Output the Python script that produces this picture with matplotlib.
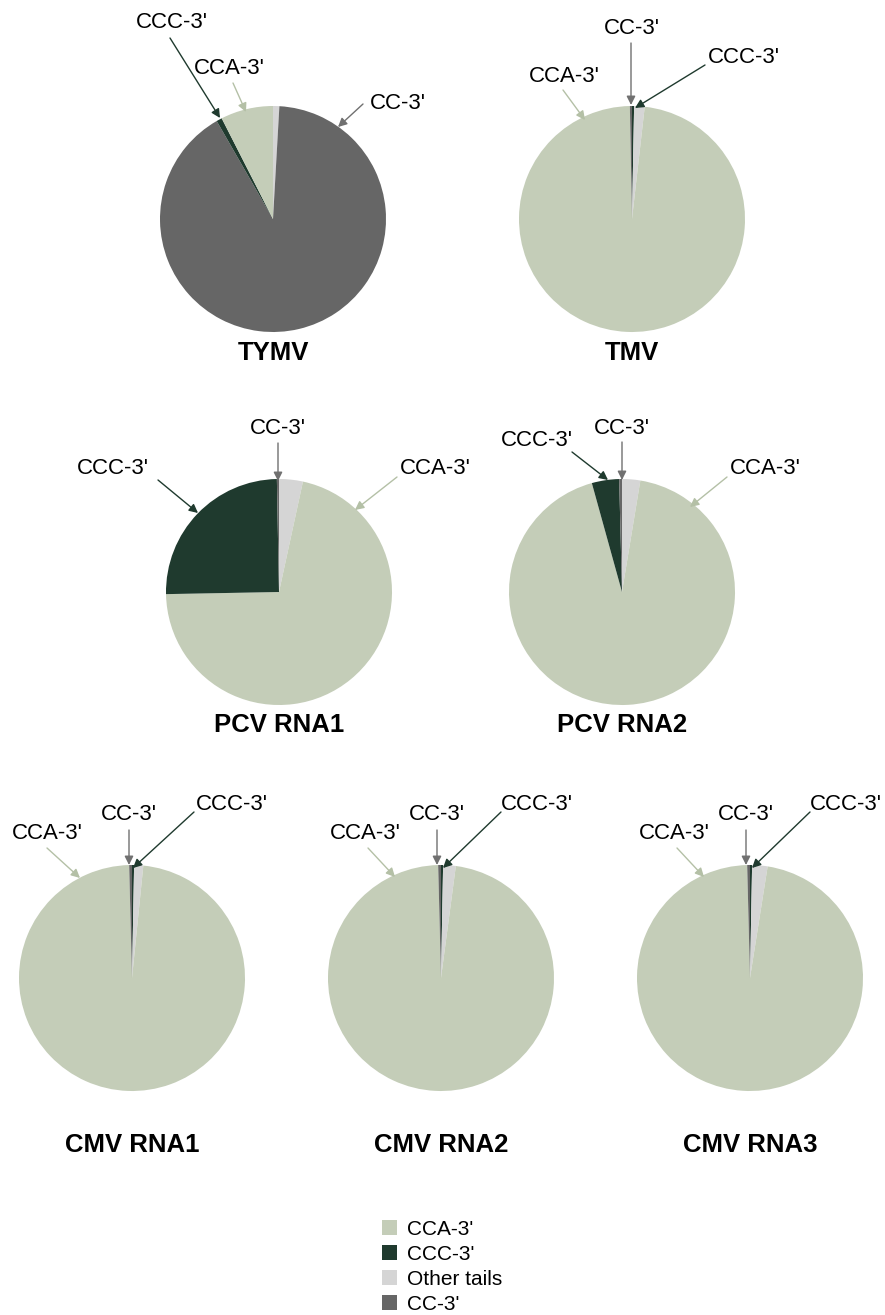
import matplotlib
matplotlib.use("Agg")
import matplotlib.pyplot as plt
from matplotlib.patches import Patch

plt.rcParams['font.family'] = ['Liberation Sans', 'DejaVu Sans']

# data: share of each 3' tail (percent), category order = categories
categories = ["CCA-3'", "CCC-3'", "Other tails", "CC-3'"]
colors = ['#c4cdb8', '#1f3a2e', '#d5d5d5', '#666666']
arrow_colors = ['#b4c0a6', '#1f3a2e', '#d5d5d5', '#707070']

viruses = ['TYMV', 'TMV', 'PCV RNA1', 'PCV RNA2', 'CMV RNA1', 'CMV RNA2', 'CMV RNA3']
tymv = [7.5, 0.8, 0.9, 90.8]
tmv = [97.9, 0.3, 1.5, 0.3]
pcv_rna1 = [71.3, 25.0, 3.4, 0.3]
pcv_rna2 = [93.1, 3.9, 2.6, 0.4]
cmv_rna1 = [98.0, 0.3, 1.3, 0.4]
cmv_rna2 = [97.5, 0.3, 1.8, 0.4]
cmv_rna3 = [97.1, 0.3, 2.2, 0.4]
values = [tymv, tmv, pcv_rna1, pcv_rna2, cmv_rna1, cmv_rna2, cmv_rna3]

# clockwise slice order from 12 o'clock (indices into categories)
slice_order = [
    [2, 3, 1, 0],
    [1, 2, 0, 3],
    [2, 0, 1, 3],
    [2, 0, 1, 3],
    [1, 2, 0, 3],
    [1, 2, 0, 3],
    [1, 2, 0, 3],
]

# layout in pixels (image coords, y down)
W, H = 885, 1315
R = 113
centers = [(273, 219), (632, 219), (279, 592), (622, 592),
           (132, 978), (441, 978), (750, 978)]
title_dy = [134, 134, 133, 133, 167, 167, 167]

# callouts per pie: (category index, text offset, arrow start offset, arrow tip offset)
cmv_a = [(0, (-85, -145), (-85, -130), (-52, -100)),
         (3, (-3, -164), (-3, -148), (-3, -113)),
         (1, (100, -174), (62, -166), (1, -110))]
cmv_b = [(0, (-76, -145), (-73, -130), (-46, -101)),
         (3, (-4, -164), (-4, -148), (-4, -113)),
         (1, (96, -174), (60, -166), (2, -110))]
callouts = [
    [(1, (-101, -197), (-103, -181), (-53, -101)),
     (0, (-44, -151), (-40, -136), (-27, -107)),
     (3, (125, -116), (90, -115), (65, -92))],
    [(3, (0, -191), (-1, -176), (-1, -114)),
     (1, (112, -162), (73, -154), (3, -111)),
     (0, (-68, -143), (-69, -129), (-47, -99))],
    [(3, (-1, -164), (-1, -149), (-1, -111)),
     (1, (-166, -124), (-121, -112), (-81, -79)),
     (0, (156, -124), (118, -115), (76, -82))],
    [(1, (-85, -152), (-50, -140), (-14, -112)),
     (3, (0, -164), (0, -150), (0, -112)),
     (0, (143, -124), (105, -115), (68, -85))],
    cmv_a, cmv_b, cmv_b,
]

fig = plt.figure(figsize=(W / 100, H / 100), dpi=100)
ax = fig.add_axes([0, 0, 1, 1])

for i, name in enumerate(viruses):
    cx, cy = centers[i]
    order = slice_order[i]
    # y axis is inverted below, so counterclock=True with startangle=-90 runs clockwise from top
    ax.pie([values[i][k] for k in order], colors=[colors[k] for k in order],
           center=(cx, cy), radius=R, startangle=-90, counterclock=True,
           wedgeprops=dict(linewidth=0))
    ax.text(cx, cy + title_dy[i], name, ha='center', va='center',
            fontsize=18.5, fontweight='bold')
    for k, t, s, tip in callouts[i]:
        ax.text(cx + t[0], cy + t[1], categories[k], ha='center', va='center', fontsize=16)
        ax.annotate('', xy=(cx + tip[0], cy + tip[1]), xytext=(cx + s[0], cy + s[1]),
                    arrowprops=dict(arrowstyle='-|>', color=arrow_colors[k], lw=1,
                                    mutation_scale=13, shrinkA=0, shrinkB=0))

ax.set_xlim(0, W)
ax.set_ylim(H, 0)
ax.set_aspect('equal')
ax.axis('off')

handles = [Patch(facecolor=c, edgecolor='none') for c in colors]
fig.legend(handles, categories, loc='upper left', bbox_to_anchor=(382 / W, 1 - 1220 / H),
           frameon=False, fontsize=15, handlelength=0.7, handleheight=0.7,
           handletextpad=0.5, labelspacing=0.28, borderpad=0, borderaxespad=0)

fig.savefig('out.png', dpi=100)
